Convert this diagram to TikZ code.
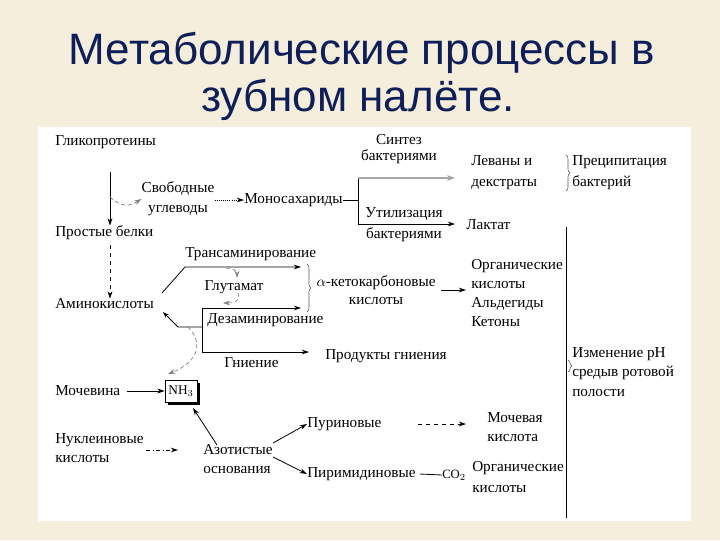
\documentclass[tikz,border=0pt]{standalone}
\usepackage{fontspec}
\setmainfont{Liberation Serif}
\newfontfamily\titlefont{Liberation Sans}
\usetikzlibrary{arrows.meta,decorations.pathreplacing,shadows}
\definecolor{bgbeige}{RGB}{246,238,221}
\definecolor{titleblue}{RGB}{14,30,88}
\begin{document}
\begin{tikzpicture}[x=0.75pt,y=-0.75pt,
  lbl/.style={anchor=west,inner sep=0pt,font=\fontsize{11.4}{14.8}\selectfont,align=left},
  clbl/.style={lbl,anchor=center,align=center},
  arr/.style={-{Stealth[length=5.5pt,width=3.6pt]},line width=0.6pt},
  plain/.style={line width=0.6pt},
  grayc/.style={arr,gray,densely dashed,line width=0.5pt},
  brc/.style={decorate,decoration={brace,amplitude=3pt},line width=0.4pt,gray!70!black},
  ttl/.style={anchor=base,inner sep=0pt,text=titleblue,font=\titlefont\fontsize{33}{38}\selectfont}]
\useasboundingbox (0,0) rectangle (720,540);
\fill[bgbeige] (0,0) rectangle (720,540);
\fill[white] (38,127) rectangle (691,521);
% title
\node[ttl] (t1) at (362,64) {Метаболические процессы в};
\node[ttl] (t2) at (358,111) {зубном налёте.};
% nodes
\node[lbl] (glyco) at (55,142) {Гликопротеины};
\node[lbl] (prost) at (55,233) {Простые белки};
\node[lbl] (amino) at (55,304) {Аминокислоты};
\node[clbl] (svob) at (178,199) {Свободные\\углеводы};
\node[lbl] (mono) at (244,200) {Моносахариды};
\node[clbl,font=\fontsize{11.4}{12.2}\selectfont] (sint) at (399,149) {Синтез\\бактериями};
\node[lbl,font=\fontsize{11.4}{15.6}\selectfont] (levan) at (471,173) {Леваны и\\декстраты};
\node[lbl,font=\fontsize{11.4}{15.6}\selectfont] (precip) at (572,173) {Преципитация\\бактерий};
\node[clbl] (util) at (404,214) {Утилизация};
\node[clbl] (bakt) at (404,235) {бактериями};
\node[lbl] (lakt) at (466,225) {Лактат};
\node[lbl] (trans) at (185,254) {Трансаминирование};
\node[clbl] (glut) at (234,287) {Глутамат};
\node[lbl] (deam) at (207,320) {Дезаминирование};
\node[lbl] (gnien) at (224,363) {Гниение};
\node[lbl] (prod) at (325,356) {Продукты гниения};
\node[clbl,font=\fontsize{11.4}{13.6}\selectfont] (keto) at (376,290) {$\alpha$-кетокарбоновые\\кислоты};
\node[lbl,font=\fontsize{11.4}{14.4}\selectfont] (org1) at (471,293) {Органические\\кислоты\\Альдегиды\\Кетоны};
\node[lbl] (izm) at (572,372) {Изменение pH\\средыв ротовой\\полости};
\node[lbl] (moch) at (55,391) {Мочевина};
\node[draw,line width=0.6pt,fill=white,minimum width=24pt,minimum height=16.5pt,inner sep=0pt,
  font=\fontsize{10}{12}\selectfont,
  drop shadow={shadow xshift=2.4pt,shadow yshift=-2.4pt,fill=black,opacity=1}] (nh3) at (181,391) {NH$_3$};
\node[lbl] (nukl) at (55,448) {Нуклеиновые\\кислоты};
\node[lbl,font=\fontsize{11.4}{13.6}\selectfont] (azot) at (203,459) {Азотистые\\основания};
\node[lbl] (purin) at (307,424) {Пуриновые};
\node[lbl] (pirim) at (307,474) {Пиримидиновые};
\node[lbl] (mochk) at (487,427) {Мочевая\\кислота};
\node[lbl,font=\fontsize{9.5}{11}\selectfont] (co2) at (442,475) {CO$_2$};
\node[lbl,font=\fontsize{11.4}{15.4}\selectfont] (org2) at (472,477) {Органические\\кислоты};
% coordinates
\coordinate (g1) at (110,172);
\coordinate (g2) at (110,197);
\coordinate (p1) at (110,245);
\coordinate (m1) at (358,200);
\coordinate (m2) at (358,178);
\coordinate (m3) at (358,224);
\coordinate (m4) at (455,178);
\coordinate (m5) at (455,224);
\coordinate (a1) at (162,293);
\coordinate (a2) at (185,267);
\coordinate (a5) at (301,267);
\coordinate (a3) at (163,312);
\coordinate (a4) at (178,327);
\coordinate (d1) at (202,327);
\coordinate (d2) at (202,308);
\coordinate (d3) at (202,352);
\coordinate (d4) at (301,308);
\coordinate (d5) at (309,352);
\coordinate (gl1) at (226,268);
\coordinate (gl2) at (238,293);
\coordinate (nh1) at (188,327);
\coordinate (nh2) at (168,374);
\coordinate (nh3b) at (193,408);
\coordinate (az1) at (217,445);
\coordinate (az2) at (273,443);
\coordinate (az3) at (273,457);
\coordinate (k1) at (441,290);
\coordinate (k2) at (466,290);
\coordinate (n1) at (146,450);
\coordinate (n2) at (178,450);
\coordinate (pu1) at (418,424);
\coordinate (pu2) at (466,424);
\coordinate (pi1) at (420,474);
% connectors
\draw[arr] (g1) -- (g1 |- prost.north);
\draw[grayc] (g2) .. controls (122,208) and (130,206) .. (svob.west);
\draw[arr,densely dotted] (svob.east |- mono.west) -- (mono.west);
\draw[plain] (mono.east) -- (m1);
\draw[plain] (m2) -- (m3);
\draw[-{Stealth[length=6pt,width=4.5pt]},line width=1.5pt,gray!70] (m2) -- (m4);
\draw[arr] (m3) -- (m5);
\draw[brc] (566,155) -- (566,191);
\draw[plain] (566,227) -- (566,518);
\draw[brc] (568,360) -- (568,372);
\draw[arr,dashed] (p1) -- (p1 |- amino.north);
\draw[arr] (a1) -- (a2) -- (a5);
\draw[{Stealth[length=4.5pt,width=3pt]}-,plain] (a3) -- (a4) -- (d1);
\draw[plain] (d2) -- (d3);
\draw[arr] (d2) -- (d4);
\draw[arr] (d3) -- (d5);
\draw[grayc] (gl1) .. controls (233,268) and (237,271) .. (237,278);
\draw[grayc] (gl2) .. controls (241,302) and (233,303) .. (223,303);
\draw[grayc] (nh1) .. controls (204,343) and (198,362) .. (nh2);
\draw[brc] (307,264) -- (307,312);
\draw[arr] (k1) -- (k2);
\draw[arr] (moch.east) ++(7,0) -- (nh3.west);
\draw[arr] (az1) -- (nh3b);
\draw[arr,dash dot] (n1) -- (n2);
\draw[arr] (az2) -- (purin.west);
\draw[arr] (az3) -- (pirim.west);
\draw[arr,dashed] (pu1) -- (pu2);
\draw[plain] (pi1) -- (co2.west);
\end{tikzpicture}
\end{document}
